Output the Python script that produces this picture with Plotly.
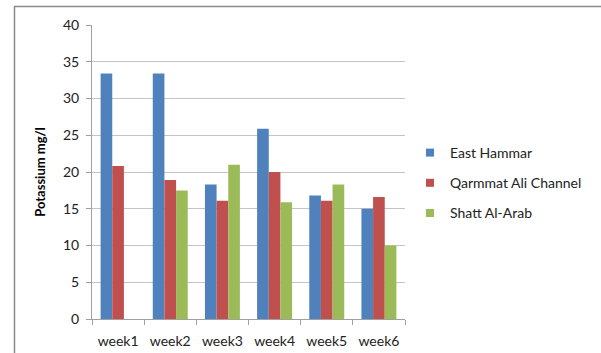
import plotly.graph_objects as go

# Weekly potassium concentration (mg/l) at three sampling sites
weeks = ["week1", "week2", "week3", "week4", "week5", "week6"]
east_hammar = [33.4, 33.4, 18.3, 25.9, 16.8, 15.0]
qarmmat_ali = [20.8, 18.9, 16.1, 20.0, 16.1, 16.6]
shatt_al_arab = [None, 17.5, 21.0, 15.9, 18.3, 10.0]

series = [
    ("East Hammar", east_hammar, "#4F81BD"),
    ("Qarmmat Ali Channel", qarmmat_ali, "#C0504D"),
    ("Shatt Al-Arab", shatt_al_arab, "#9BBB59"),
]

W, H = 601, 353
ML, MR, MT, MB = 92, 196, 25, 34
PW, PH = W - ML - MR, H - MT - MB

fig = go.Figure()
for i, (name, vals, color) in enumerate(series):
    fig.add_trace(go.Bar(
        x=weeks, y=vals, name=name,
        marker=dict(color=color, line=dict(width=0)),
        showlegend=False,
    ))
    # small square key for the legend
    fig.add_trace(go.Scatter(
        x=[None], y=[None], mode="markers", name=name,
        marker=dict(symbol="square", size=8, color=color),
        legendgroup=f"g{i}",
    ))

font = "Lato, Carlito, 'Open Sans', sans-serif"

def px_x(px):
    return (px - ML) / PW

def px_y(py):
    return (H - MB - py) / PH

# outer chart frame: top and left edges
fig.add_shape(type="line", xref="paper", yref="paper",
              x0=px_x(14), x1=px_x(601), y0=px_y(6.5), y1=px_y(6.5),
              line=dict(color="#8a8a8a", width=1.5))
fig.add_shape(type="line", xref="paper", yref="paper",
              x0=px_x(14.5), x1=px_x(14.5), y0=px_y(6), y1=px_y(353),
              line=dict(color="#8a8a8a", width=1.5))

fig.update_layout(
    width=W, height=H,
    margin=dict(l=ML, r=MR, t=MT, b=MB, autoexpand=False),
    paper_bgcolor="white", plot_bgcolor="white",
    barmode="group", bargap=0.33, bargroupgap=0,
    font=dict(family=font, size=13, color="#222222"),
    showlegend=True,
    legend=dict(
        x=px_x(410), y=px_y(183), xanchor="left", yanchor="middle",
        font=dict(family=font, size=14, color="#222222"),
        tracegroupgap=9, itemwidth=30,
        bgcolor="rgba(0,0,0,0)",
    ),
    xaxis=dict(
        automargin=False,
        showline=True, linecolor="#a0a0a0", linewidth=1,
        ticks="outside", tickson="boundaries", ticklen=5, tickcolor="#a0a0a0",
        tickfont=dict(family=font, size=14, color="#222222"),
        ticklabelstandoff=9,
        showgrid=False,
    ),
    yaxis=dict(
        automargin=False,
        range=[0, 40], dtick=5,
        showline=True, linecolor="#a0a0a0", linewidth=1,
        ticks="outside", ticklen=5, tickcolor="#a0a0a0",
        showgrid=True, gridcolor="#c4c4c4", gridwidth=1,
        zeroline=False,
        tickfont=dict(family=font, size=14, color="#222222"),
        ticklabelstandoff=4,
        title=dict(text="<b>Potassium mg/l</b>", standoff=14,
                   font=dict(family=font, size=13, color="#000000")),
    ),
)

fig.write_html("out.html")
